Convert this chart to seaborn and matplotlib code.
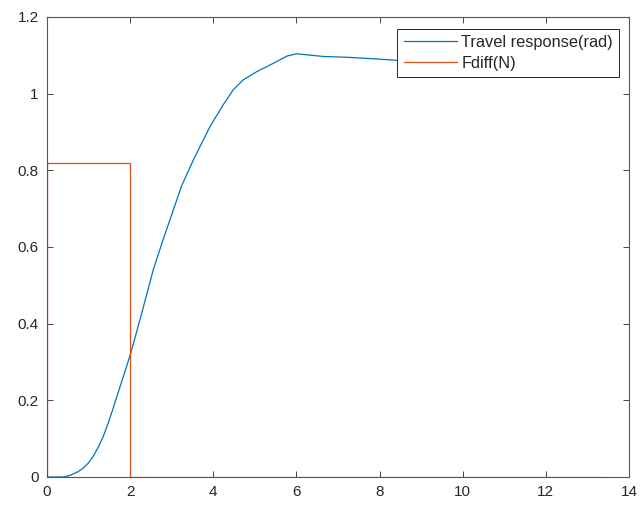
import matplotlib
matplotlib.use("Agg")
import matplotlib.pyplot as plt
import seaborn as sns
import pandas as pd

# Travel response (rad)
travel_t = [0.0, 0.2, 0.39, 0.55, 0.75, 0.87, 1.0, 1.11, 1.23, 1.35, 1.47, 1.59, 1.72, 1.86,
            2.0, 2.16, 2.28, 2.56, 2.78, 3.04, 3.24, 3.52, 3.92, 4.24, 4.48, 4.72, 5.04,
            5.44, 5.77, 6.0, 6.29, 6.65, 7.21, 8.01, 8.41, 9.0, 10.0, 11.0, 12.0, 13.3]
travel_y = [0.0, 0.0, 0.0, 0.004, 0.014, 0.023, 0.037, 0.054, 0.077, 0.105, 0.14, 0.179, 0.223, 0.27,
            0.318, 0.38, 0.428, 0.542, 0.615, 0.697, 0.76, 0.827, 0.914, 0.971, 1.010, 1.036, 1.057,
            1.079, 1.098, 1.104, 1.101, 1.097, 1.095, 1.090, 1.087, 1.084, 1.082, 1.080, 1.079, 1.078]

# Fdiff (N)
fdiff_t = [0.0, 0.0, 2.0, 2.0, 13.3]
fdiff_y = [0.0, 0.82, 0.82, 0.0, 0.0]

xticks = [0, 2, 4, 6, 8, 10, 12, 14]
yticks = [0, 0.2, 0.4, 0.6, 0.8, 1.0, 1.2]
ytick_labels = ["0", "0.2", "0.4", "0.6", "0.8", "1", "1.2"]

sns.set_theme(style="white")
plt.rcParams["font.family"] = ["Liberation Sans", "DejaVu Sans"]

fig = plt.figure(figsize=(6.43, 5.09), dpi=100)
ax = fig.add_axes([47 / 643, 32 / 509, (629 - 47) / 643, (477 - 17) / 509])

df1 = pd.DataFrame({"t": travel_t, "y": travel_y})
df2 = pd.DataFrame({"t": fdiff_t, "y": fdiff_y})

sns.lineplot(data=df1, x="t", y="y", ax=ax, color="#0072BD", linewidth=0.9,
             sort=False, estimator=None, label="Travel response(rad)")
sns.lineplot(data=df2, x="t", y="y", ax=ax, color="#D95319", linewidth=0.9,
             sort=False, estimator=None, label="Fdiff(N)")

ax.set_xlim(0, 14)
ax.set_ylim(0, 1.2)
ax.set_xticks(xticks)
ax.set_xticklabels([str(v) for v in xticks])
ax.set_yticks(yticks)
ax.set_yticklabels(ytick_labels)
ax.set_xlabel("")
ax.set_ylabel("")

for s in ax.spines.values():
    s.set_visible(True)
    s.set_color("#555555")
    s.set_linewidth(0.8)

ax.tick_params(axis="both", direction="in", length=4, width=0.6, color="#262626",
               labelsize=11, labelcolor="#262626", top=True, right=True,
               bottom=True, left=True, pad=6)

leg = ax.legend(loc="upper right", bbox_to_anchor=(0.983, 0.975), fontsize=11.8,
                frameon=True, fancybox=False, framealpha=1, edgecolor="#262626",
                handlelength=3.25, handletextpad=0.27, borderpad=0.38,
                labelspacing=0.36, borderaxespad=0)
leg.get_frame().set_linewidth(0.7)

fig.savefig("out.png", dpi=100)
